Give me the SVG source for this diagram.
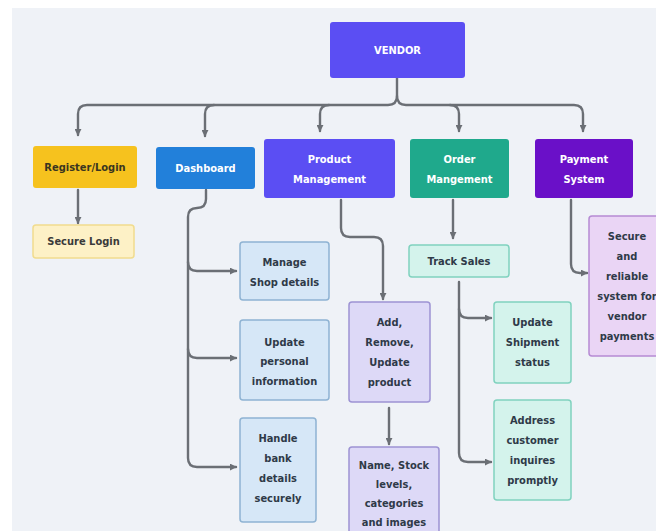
<svg xmlns="http://www.w3.org/2000/svg" width="656" height="531" viewBox="0 0 656 531">
<defs>
<marker id="ah" viewBox="0 0 8 8" refX="7" refY="4" markerWidth="7" markerHeight="7" markerUnits="userSpaceOnUse" orient="auto">
<path d="M0,0 L8,4 L0,8 z" fill="#6b6f75"/>
</marker>
<style>
.t{font-family:"DejaVu Sans Condensed","DejaVu Sans",sans-serif;font-stretch:condensed;font-weight:bold;font-size:11px;text-anchor:middle}
.w{fill:#ffffff}
.d{fill:#2f3a48}
.c{fill:none;stroke:#6b6f75;stroke-width:2.4;stroke-linecap:round}
.a{marker-end:url(#ah)}
</style>
</defs>
<rect x="0" y="0" width="656" height="531" fill="#ffffff"/>
<rect x="12" y="8" width="644" height="523" fill="#eff2f7"/>

<g id="connectors">
<path class="c a" d="M397,78 V96 Q397,105 388,105 H87 Q78,105 78,114 V135"/>
<path class="c a" d="M397,96 Q397,105 406,105 H574 Q583,105 583,114 V131"/>
<path class="c a" d="M214,105 Q205,105 205,114 V136"/>
<path class="c a" d="M329,105 Q320,105 320,114 V131"/>
<path class="c a" d="M450,105 Q459,105 459,114 V131"/>
<path class="c a" d="M78,190 V223"/>
<path class="c a" d="M206,190 V199 Q206,208 197,208 Q188,208 188,217 V458 Q188,467 197,467 H236"/>
<path class="c a" d="M188,262 Q188,271 197,271 H236"/>
<path class="c a" d="M188,349 Q188,358 197,358 H236"/>
<path class="c a" d="M341,200 V228 Q341,237 350,237 H374 Q383,237 383,246 V299"/>
<path class="c a" d="M389,408 V444"/>
<path class="c a" d="M453,200 V238"/>
<path class="c a" d="M459,282 V453 Q459,462 468,462 H491"/>
<path class="c a" d="M459,309 Q459,318 468,318 H491"/>
<path class="c a" d="M571,200 V264 Q571,273 580,273 H587"/>
</g>

<g id="vendor">
<rect x="330" y="22" width="135" height="56" rx="3" fill="#5b4ef3"/>
<text class="t w" x="397.5" y="54">VENDOR</text>
</g>
<g id="register">
<rect x="33" y="146" width="104" height="42" rx="3" fill="#f6c21e"/>
<text class="t" x="85" y="171" fill="#3a3520">Register/Login</text>
</g>
<g id="dashboard">
<rect x="156" y="147" width="99" height="42" rx="3" fill="#2280da"/>
<text class="t w" x="205.5" y="172">Dashboard</text>
</g>
<g id="product">
<rect x="264" y="139" width="131" height="59" rx="3" fill="#5b4ef3"/>
<text class="t w" x="329.5" y="163">Product</text>
<text class="t w" x="329.5" y="183">Management</text>
</g>
<g id="order">
<rect x="410" y="139" width="99" height="59" rx="3" fill="#1fa98c"/>
<text class="t w" x="459.5" y="163">Order</text>
<text class="t w" x="459.5" y="183">Mangement</text>
</g>
<g id="payment">
<rect x="535" y="139" width="98" height="59" rx="3" fill="#6a10c8"/>
<text class="t w" x="584" y="163">Payment</text>
<text class="t w" x="584" y="183">System</text>
</g>

<g id="secure-login">
<rect x="33" y="225" width="101" height="33" rx="3" fill="#fdf1c6" stroke="#f1dc8e" stroke-width="1.5"/>
<text class="t" x="83.5" y="245" fill="#3a3a3a">Secure Login</text>
</g>
<g id="manage-shop">
<rect x="240" y="242" width="89" height="58" rx="3" fill="#d6e7f7" stroke="#8fb3d3" stroke-width="1.5"/>
<text class="t d" x="284.5" y="266">Manage</text>
<text class="t d" x="284.5" y="286">Shop details</text>
</g>
<g id="update-personal">
<rect x="240" y="320" width="89" height="80" rx="3" fill="#d6e7f7" stroke="#8fb3d3" stroke-width="1.5"/>
<text class="t d" x="284.5" y="346">Update</text>
<text class="t d" x="284.5" y="365">personal</text>
<text class="t d" x="284.5" y="385">information</text>
</g>
<g id="handle-bank">
<rect x="240" y="418" width="76" height="104" rx="3" fill="#d6e7f7" stroke="#8fb3d3" stroke-width="1.5"/>
<text class="t d" x="278" y="442">Handle</text>
<text class="t d" x="278" y="462">bank</text>
<text class="t d" x="278" y="482">details</text>
<text class="t d" x="278" y="502">securely</text>
</g>
<g id="add-remove">
<rect x="349" y="302" width="81" height="100" rx="3" fill="#ddd9f7" stroke="#9d93d4" stroke-width="1.5"/>
<text class="t d" x="389.5" y="326">Add,</text>
<text class="t d" x="389.5" y="346">Remove,</text>
<text class="t d" x="389.5" y="366">Update</text>
<text class="t d" x="389.5" y="386">product</text>
</g>
<g id="name-stock">
<rect x="349" y="447" width="90" height="100" rx="3" fill="#ddd9f7" stroke="#9d93d4" stroke-width="1.5"/>
<text class="t d" x="394" y="469">Name, Stock</text>
<text class="t d" x="394" y="488">levels,</text>
<text class="t d" x="394" y="507">categories</text>
<text class="t d" x="394" y="526">and images</text>
</g>
<g id="track-sales">
<rect x="409" y="245" width="100" height="32" rx="3" fill="#d4f3ec" stroke="#80d2bf" stroke-width="1.5"/>
<text class="t d" x="459" y="265">Track Sales</text>
</g>
<g id="update-shipment">
<rect x="494" y="302" width="77" height="81" rx="3" fill="#d4f3ec" stroke="#80d2bf" stroke-width="1.5"/>
<text class="t d" x="532.5" y="326">Update</text>
<text class="t d" x="532.5" y="346">Shipment</text>
<text class="t d" x="532.5" y="366">status</text>
</g>
<g id="address-customer">
<rect x="494" y="400" width="77" height="100" rx="3" fill="#d4f3ec" stroke="#80d2bf" stroke-width="1.5"/>
<text class="t d" x="532.5" y="424">Address</text>
<text class="t d" x="532.5" y="444">customer</text>
<text class="t d" x="532.5" y="464">inquires</text>
<text class="t d" x="532.5" y="484">promptly</text>
</g>
<g id="secure-payments">
<rect x="589" y="216" width="76" height="140" rx="3" fill="#ead5f5" stroke="#b68bd4" stroke-width="1.5"/>
<text class="t d" x="627" y="240">Secure</text>
<text class="t d" x="627" y="260">and</text>
<text class="t d" x="627" y="280">reliable</text>
<text class="t d" x="627" y="300">system for</text>
<text class="t d" x="627" y="320">vendor</text>
<text class="t d" x="627" y="340">payments</text>
</g>
</svg>
